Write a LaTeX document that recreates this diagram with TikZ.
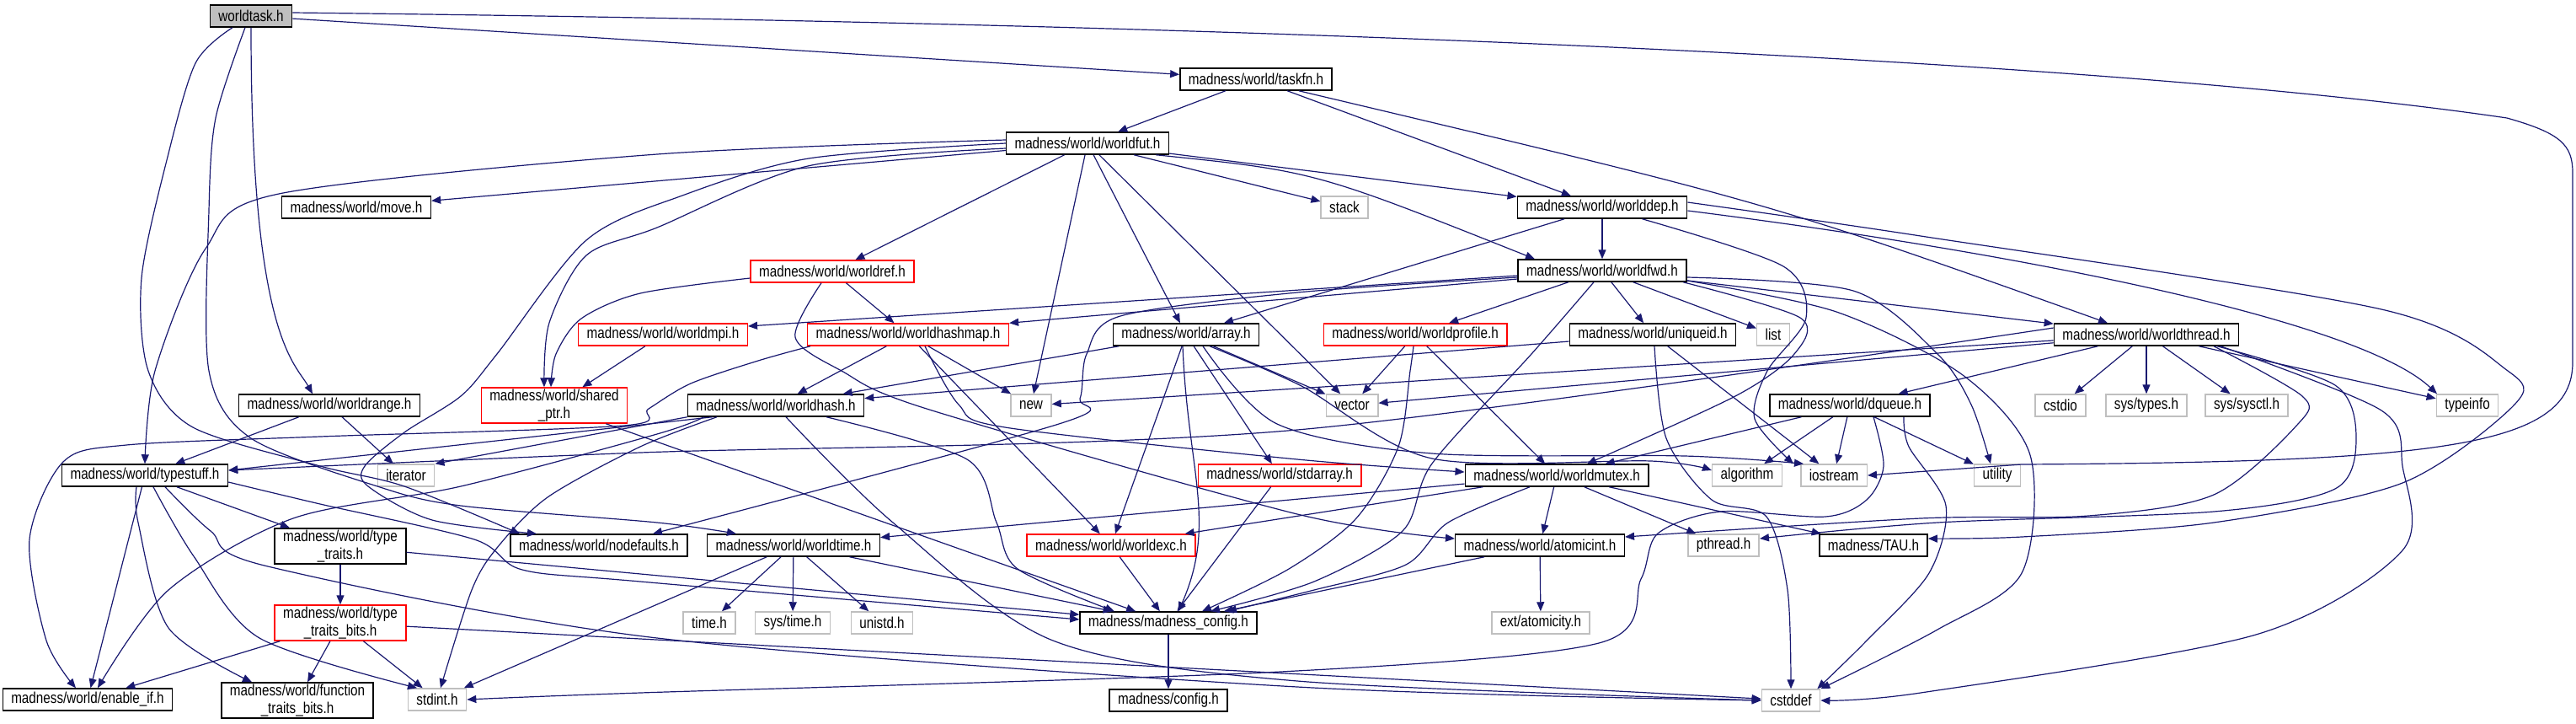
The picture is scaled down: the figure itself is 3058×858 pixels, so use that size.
\documentclass[tikz,border=0pt]{standalone}
\usepackage{fontspec}
\setmainfont{Liberation Sans}[FakeStretch=0.82]
\usetikzlibrary{arrows.meta}
\definecolor{edgeblue}{HTML}{191970}
\definecolor{sysgray}{HTML}{BFBFBF}
\begin{document}
\begin{tikzpicture}[x=0.5pt, y=-0.5pt,
        hdr/.style={draw=black, fill=white, line width=0.75pt, inner xsep=5pt, inner ysep=0pt,
            minimum height=13pt, align=center, font=\fontsize{9.3}{10.5}\selectfont},
        sys/.style={hdr, draw=sysgray},
        bad/.style={hdr, draw=red},
        main/.style={hdr, fill=sysgray},
        two/.style={minimum height=21pt},
        inc/.style={draw=edgeblue, line width=0.6pt, -{Triangle[length=5.5pt, width=4.5pt]}}]
    \useasboundingbox (0,0) rectangle (3058,858);

    \node[main] (task) at (298,19) {worldtask.h};
    \node[hdr] (taskfn) at (1491,94) {madness/world/taskfn.h};
    \node[hdr] (fut) at (1291,170) {madness/world/worldfut.h};
    \node[hdr] (move) at (423,246) {madness/world/move.h};
    \node[sys] (stack) at (1596,246) {stack};
    \node[hdr] (dep) at (1902,246) {madness/world/worlddep.h};
    \node[bad] (ref) at (988,322) {madness/world/worldref.h};
    \node[hdr] (fwd) at (1902,321) {madness/world/worldfwd.h};
    \node[bad] (mpi) at (787,397) {madness/world/worldmpi.h};
    \node[bad] (hashmap) at (1078,397) {madness/world/worldhashmap.h};
    \node[hdr] (array) at (1408,397) {madness/world/array.h};
    \node[bad] (profile) at (1680,397) {madness/world/worldprofile.h};
    \node[hdr] (uniqueid) at (1962,397) {madness/world/uniqueid.h};
    \node[sys] (list) at (2105,397) {list};
    \node[hdr] (thread) at (2548,397) {madness/world/worldthread.h};
    \node[hdr] (range) at (391,481) {madness/world/worldrange.h};
    \node[bad, two] (sharedptr) at (658,481) {madness/world/shared\\\_ptr.h};
    \node[hdr] (hash) at (921,481) {madness/world/worldhash.h};
    \node[sys] (new) at (1224,481) {new};
    \node[sys] (vector) at (1605,481) {vector};
    \node[hdr] (dqueue) at (2196,481) {madness/world/dqueue.h};
    \node[sys] (cstdio) at (2446,481) {cstdio};
    \node[sys] (systypes) at (2548,481) {sys/types.h};
    \node[sys] (sysctl) at (2667,481) {sys/sysctl.h};
    \node[sys] (typeinfo) at (2929,481) {typeinfo};
    \node[hdr] (typestuff) at (172,564) {madness/world/typestuff.h};
    \node[sys] (iterator) at (482,564) {iterator};
    \node[bad] (stdarray) at (1519,564) {madness/world/stdarray.h};
    \node[hdr] (mutex) at (1848,564) {madness/world/worldmutex.h};
    \node[sys] (algorithm) at (2074,564) {algorithm};
    \node[sys] (iostream) at (2177,564) {iostream};
    \node[sys] (utility) at (2371,564) {utility};
    \node[hdr, two] (typetraits) at (404,648) {madness/world/type\\\_traits.h};
    \node[hdr] (nodefaults) at (711,647) {madness/world/nodefaults.h};
    \node[hdr] (wtime) at (942,647) {madness/world/worldtime.h};
    \node[bad] (exc) at (1319,647) {madness/world/worldexc.h};
    \node[hdr] (atomicint) at (1828,647) {madness/world/atomicint.h};
    \node[sys] (pthread) at (2046,647) {pthread.h};
    \node[hdr] (tau) at (2224,647) {madness/TAU.h};
    \node[bad, two] (ttbits) at (404,739) {madness/world/type\\\_traits\_bits.h};
    \node[sys] (timeh) at (842,739) {time.h};
    \node[sys] (systime) at (941,739) {sys/time.h};
    \node[sys] (unistd) at (1047,739) {unistd.h};
    \node[hdr] (mconfig) at (1387,739) {madness/madness\_config.h};
    \node[sys] (atomicity) at (1829,739) {ext/atomicity.h};
    \node[hdr] (enableif) at (104,830) {madness/world/enable\_if.h};
    \node[hdr, two] (ftbits) at (353,831) {madness/world/function\\\_traits\_bits.h};
    \node[sys] (stdint) at (519,830) {stdint.h};
    \node[hdr] (config) at (1387,831) {madness/config.h};
    \node[sys] (cstddef) at (2126,831) {cstddef};

    \foreach \a/\b in {task/taskfn, taskfn/fut, taskfn/dep, fut/move, fut/stack, fut/dep,
            fut/ref, fut/new, fut/vector, fut/array, dep/fwd, dep/array, ref/hashmap, mpi/sharedptr,
            fwd/profile, fwd/uniqueid, fwd/list, fwd/thread, hashmap/hash, hashmap/new, hashmap/exc,
            array/hash, array/exc, array/stdarray, array/vector, profile/vector, profile/mutex,
            uniqueid/hash, uniqueid/iostream, thread/new, thread/vector, thread/dqueue, thread/cstdio,
            thread/systypes, thread/sysctl, thread/typeinfo, range/typestuff, range/iterator,
            dqueue/mutex, dqueue/algorithm, dqueue/iostream, dqueue/utility, mutex/atomicint,
            mutex/pthread, mutex/tau, mutex/exc, mutex/wtime, typestuff/typetraits, typestuff/enableif,
            typetraits/ttbits, typetraits/mconfig, ttbits/enableif, ttbits/ftbits, ttbits/stdint,
            ttbits/cstddef, sharedptr/mconfig, stdarray/mconfig, exc/mconfig, wtime/timeh,
            wtime/systime, wtime/unistd, wtime/mconfig, wtime/stdint, atomicint/atomicity,
            atomicint/mconfig, mconfig/config}
        \draw[inc] (\a) -- (\b);

    \draw[inc] ([xshift=-8pt]fut.south east) .. controls (1560,203) .. ([xshift=-40pt]fwd.north);
    \draw[inc] ([yshift=2pt]task.east) .. controls (1500,28) and (2500,70) .. (2976,140)
        .. controls (3040,158) and (3054,172) .. (3054,205) -- (3054,430)
        .. controls (3054,530) and (2900,548) .. (2400,551) -- (iostream.east);
    \draw[inc] (task.south) .. controls (298,400) and (350,430) .. ([xshift=-10pt]range.north);
    \draw[inc] plot[smooth] coordinates {([xshift=-11pt]task.south) (232,75) (198,190) (168,330)
        (176,440) (229,507) (380,553) (480,577) ([xshift=-47pt]nodefaults.north)};
    \draw[inc] plot[smooth] coordinates {([xshift=-3.5pt]task.south) (256,140) (248,250) (248,440)
        (298,520) (448,577) (547,600) (780,620) ([xshift=-34pt]wtime.north)};
    \draw[inc] plot[smooth] coordinates {([yshift=2pt]fut.west) (780,183) (331,230) (244,295)
        (184,440) (typestuff.north)};
    \draw[inc] plot[smooth] coordinates {(fut.west) (960,188) (810,232) (696,285) (590,420)
        (547,470) (480,513) (433,553) (437,577) (513,617) ([xshift=-37pt]nodefaults.north)};
    \draw[inc] plot[smooth] coordinates {([yshift=-3pt]fut.west) (959,197) (780,270) (696,303)
        (652,383) ([xshift=-6pt]sharedptr.north)};
    \draw[inc] plot[smooth] coordinates {([yshift=-4pt]ref.west) (760,348) (690,378) (660,420)
        ([xshift=-2pt]sharedptr.north)};
    \draw[inc] plot[smooth] coordinates {([xshift=-6.5pt]ref.south) (944,400) (999,440) (1100,485)
        (1540,610) ([yshift=4pt]atomicint.west)};
    \draw[inc] ([yshift=-3pt]fwd.west) -- ([yshift=5pt]mpi.east);
    \draw[inc] ([yshift=-5pt]fwd.west) -- (hashmap.north east);
    \draw[inc] plot[smooth] coordinates {([yshift=-4pt]fwd.west) (1540,347) (1330,375) (1290,420)
        (1282,473) (1257,503) ([xshift=32pt]nodefaults.north)};
    \draw[inc] plot[smooth] coordinates {([xshift=-5pt]fwd.south) (1818,420) (1700,550) (1665,630)
        (1560,690) ([xshift=25pt]mconfig.north)};
    \draw[inc] plot[smooth] coordinates {([xshift=48pt]fwd.south) (2137,377) (2130,420) (2060,470)
        ([xshift=18pt]mutex.north)};
    \draw[inc] plot[smooth] coordinates {([yshift=-4pt]fwd.east) (2200,345) (2300,420) (2340,480)
        ([xshift=-4pt]utility.north)};
    \draw[inc] plot[smooth] coordinates {([yshift=-6pt]fwd.east) (2180,370) (2330,445) (2410,540)
        (2400,680) (2300,747) (cstddef.north east)};
    \draw[inc] ([xshift=-20pt]taskfn.south east) .. controls (2100,240) .. ([xshift=-23pt]thread.north);
    \draw[inc] plot[smooth] coordinates {([xshift=-27pt]dep.south east) (2117,316) (2144,377)
        (2098,440) (2083,497) ([xshift=-24pt]iostream.north)};
    \draw[inc] ([yshift=-2pt]dep.east) .. controls (2400,300) and (2800,380) .. ([xshift=-18pt]typeinfo.north);
    \draw[inc] plot[smooth] coordinates {([yshift=3pt]dep.east) (2280,280) (2827,367) (2977,440)
        (2985,480) (2852,573) (2628,620) (2400,637) ([yshift=4pt]tau.east)};
    \draw[inc] plot[smooth] coordinates {([yshift=4pt]thread.west) (1540,510) (760,537)
        ([yshift=3pt]typestuff.east)};
    \draw[inc] plot[smooth] coordinates {([xshift=40pt]thread.south) (2733,470) (2728,503) (2628,587)
        (2479,612) (2280,615) ([yshift=5pt]atomicint.east)};
    \draw[inc] plot[smooth] coordinates {([xshift=42pt]thread.south) (2772,457) (2797,520) (2772,580)
        (2628,607) (2300,620) ([yshift=4pt]pthread.east)};
    \draw[inc] plot[smooth] coordinates {([xshift=44pt]thread.south) (2827,487) (2852,553) (2852,653)
        (2678,753) (2280,822) (cstddef.east)};
    \draw[inc] plot[smooth] coordinates {([xshift=14pt]dqueue.south) (2236,553) (2216,593) (2167,613)
        (2042,607) (1968,633) (1948,687) (1898,763) (1520,797) (760,822) (stdint.east)};
    \draw[inc] plot[smooth] coordinates {([xshift=32pt]dqueue.south) (2266,530) (2310,600) (2290,680)
        (2216,760) ([xshift=-2pt]cstddef.north east)};
    \draw[inc] plot[smooth] coordinates {([xshift=1pt]uniqueid.south) (1978,520) (2032,593) (2097,613)
        (2122,700) (cstddef.north)};
    \draw[inc] plot[smooth] coordinates {([xshift=-58pt]hashmap.south) (900,428) (820,455) (770,485)
        (740,505) (380,518) (150,528) (75,548) (35,640) (55,760) ([xshift=-7pt]enableif.north)};
    \draw[inc] ([xshift=15pt]hash.south west) -- ([yshift=3pt]typestuff.east);
    \draw[inc] (hash.south west) -- (iterator.north east);
    \draw[inc] plot[smooth] coordinates {([xshift=10pt]hash.south west) (780,515) (547,577) (348,615)
        (200,700) ([xshift=6pt]enableif.north)};
    \draw[inc] plot[smooth] coordinates {([xshift=-35pt]hash.south) (760,530) (650,590) (590,650)
        (560,700) ([xshift=2pt]stdint.north)};
    \draw[inc] plot[smooth] coordinates {([xshift=6pt]hash.south) (1060,620) (1250,760) (1540,808)
        (cstddef.west)};
    \draw[inc] plot[smooth] coordinates {([xshift=30pt]hash.south) (1148,545) (1183,620) (1208,675)
        ([xshift=-32pt]mconfig.north)};
    \draw[inc] plot[smooth] coordinates {([yshift=-4pt]typestuff.east) (380,598) (563,640) (620,676)
        (760,690) ([yshift=2pt]mconfig.west)};
    \draw[inc] plot[smooth] coordinates {([xshift=-5pt]typestuff.south) (164,620) (200,745)
        ([xshift=-27pt]ftbits.north)};
    \draw[inc] plot[smooth] coordinates {([xshift=5pt]typestuff.south) (230,660) (308,757)
        ([xshift=-12pt]stdint.north)};
    \draw[inc] plot[smooth] coordinates {([xshift=12pt]typestuff.south) (250,630) (318,672) (780,757)
        (1540,815) (cstddef.west)};
    \draw[inc] plot[smooth] coordinates {([xshift=10pt]array.south) (1516,503) (1700,538) (2000,541)
        ([xshift=-18pt]iostream.north)};
    \draw[inc] plot[smooth] coordinates {([xshift=14pt]array.south) (1545,458) (1700,544) (1960,547)
        ([yshift=3pt]algorithm.west)};
    \draw[inc] ([xshift=-2pt]array.south) .. controls (1410,560) and (1445,620) .. ([xshift=6pt]mconfig.north);
    \draw[inc] plot[smooth] coordinates {([xshift=10pt]hashmap.south) (1138,480) (1193,507) (1540,545)
        ([yshift=2pt]mutex.west)};
    \draw[inc] plot[smooth] coordinates {([xshift=-1pt]profile.south) (1674,440) (1660,530) (1610,615)
        (1530,675) ([xshift=20pt]mconfig.north)};
    \draw[inc] plot[smooth] coordinates {([xshift=-16pt]mutex.south) (1719,620) (1669,670) (1560,700)
        ([xshift=35pt]mconfig.north)};
\end{tikzpicture}
\end{document}
